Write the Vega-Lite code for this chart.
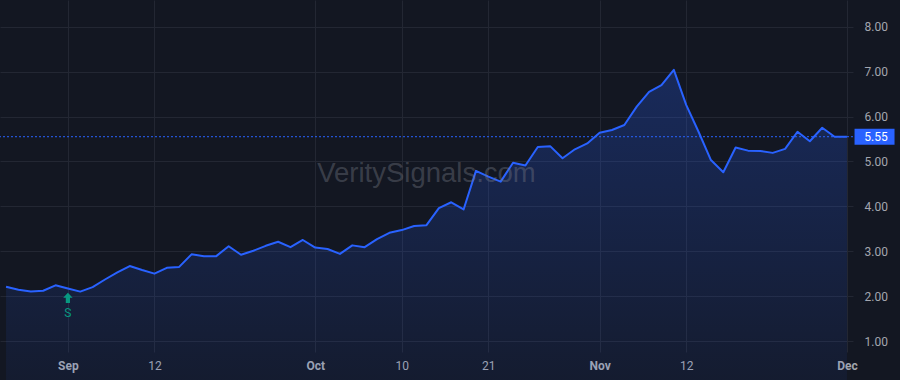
{
  "$schema": "https://vega.github.io/schema/vega-lite/v6.json",
  "width": 853,
  "height": 352,
  "autosize": {"type": "none"},
  "padding": {"left": 0, "top": 0, "right": 47, "bottom": 28},
  "background": "#131722",
  "config": {
    "view": {"stroke": null, "fill": "#131722"},
    "axis": {
      "gridColor": "#232733",
      "gridWidth": 1,
      "domain": false,
      "ticks": false,
      "labelColor": "#a3a6af",
      "labelFont": "Roboto",
      "labelFontSize": 12,
      "title": null
    }
  },
  "datasets": {
    "prices": [
      {"date": "2024-08-26", "close": 2.21},
      {"date": "2024-08-27", "close": 2.14},
      {"date": "2024-08-28", "close": 2.10},
      {"date": "2024-08-29", "close": 2.12},
      {"date": "2024-08-30", "close": 2.24},
      {"date": "2024-09-03", "close": 2.17},
      {"date": "2024-09-04", "close": 2.10},
      {"date": "2024-09-05", "close": 2.20},
      {"date": "2024-09-06", "close": 2.37},
      {"date": "2024-09-09", "close": 2.53},
      {"date": "2024-09-10", "close": 2.67},
      {"date": "2024-09-11", "close": 2.58},
      {"date": "2024-09-12", "close": 2.50},
      {"date": "2024-09-13", "close": 2.63},
      {"date": "2024-09-16", "close": 2.65},
      {"date": "2024-09-17", "close": 2.93},
      {"date": "2024-09-18", "close": 2.89},
      {"date": "2024-09-19", "close": 2.89},
      {"date": "2024-09-20", "close": 3.11},
      {"date": "2024-09-23", "close": 2.92},
      {"date": "2024-09-24", "close": 3.01},
      {"date": "2024-09-25", "close": 3.12},
      {"date": "2024-09-26", "close": 3.21},
      {"date": "2024-09-27", "close": 3.09},
      {"date": "2024-09-30", "close": 3.25},
      {"date": "2024-10-01", "close": 3.08},
      {"date": "2024-10-02", "close": 3.05},
      {"date": "2024-10-03", "close": 2.94},
      {"date": "2024-10-04", "close": 3.13},
      {"date": "2024-10-07", "close": 3.09},
      {"date": "2024-10-08", "close": 3.27},
      {"date": "2024-10-09", "close": 3.41},
      {"date": "2024-10-10", "close": 3.47},
      {"date": "2024-10-11", "close": 3.56},
      {"date": "2024-10-14", "close": 3.58},
      {"date": "2024-10-15", "close": 3.96},
      {"date": "2024-10-16", "close": 4.09},
      {"date": "2024-10-17", "close": 3.93},
      {"date": "2024-10-18", "close": 4.79},
      {"date": "2024-10-21", "close": 4.66},
      {"date": "2024-10-22", "close": 4.55},
      {"date": "2024-10-23", "close": 4.97},
      {"date": "2024-10-24", "close": 4.91},
      {"date": "2024-10-25", "close": 5.32},
      {"date": "2024-10-28", "close": 5.34},
      {"date": "2024-10-29", "close": 5.07},
      {"date": "2024-10-30", "close": 5.27},
      {"date": "2024-10-31", "close": 5.40},
      {"date": "2024-11-01", "close": 5.64},
      {"date": "2024-11-04", "close": 5.70},
      {"date": "2024-11-05", "close": 5.81},
      {"date": "2024-11-06", "close": 6.22},
      {"date": "2024-11-07", "close": 6.55},
      {"date": "2024-11-08", "close": 6.70},
      {"date": "2024-11-11", "close": 7.04},
      {"date": "2024-11-12", "close": 6.26},
      {"date": "2024-11-13", "close": 5.66},
      {"date": "2024-11-14", "close": 5.03},
      {"date": "2024-11-15", "close": 4.76},
      {"date": "2024-11-18", "close": 5.31},
      {"date": "2024-11-19", "close": 5.24},
      {"date": "2024-11-20", "close": 5.23},
      {"date": "2024-11-21", "close": 5.19},
      {"date": "2024-11-22", "close": 5.28},
      {"date": "2024-11-25", "close": 5.66},
      {"date": "2024-11-26", "close": 5.45},
      {"date": "2024-11-27", "close": 5.75},
      {"date": "2024-11-29", "close": 5.55},
      {"date": "2024-12-02", "close": 5.55}
    ],
    "signals": [
      {"date": "2024-09-03", "close": 2.17, "signal": "S"}
    ],
    "last": [
      {"date": "2024-12-02", "close": 5.55}
    ]
  },
  "layer": [
    {
      "data": {"name": "prices"},
      "mark": {
        "type": "area",
        "color": {
          "gradient": "linear",
          "x1": 0, "y1": 0, "x2": 0, "y2": 1,
          "stops": [
            {"offset": 0, "color": "rgba(41,98,255,0.26)"},
            {"offset": 1, "color": "rgba(41,98,255,0.06)"}
          ]
        }
      },
      "encoding": {
        "x": {
          "field": "date",
          "type": "ordinal",
          "sort": "ascending",
          "scale": {"type": "point", "padding": 0.49},
          "axis": {
            "values": ["2024-09-03", "2024-09-12", "2024-10-01", "2024-10-10", "2024-10-21", "2024-11-01", "2024-11-12", "2024-12-02"],
            "labelExpr": "datum.value == '2024-09-03' ? 'Sep' : datum.value == '2024-10-01' ? 'Oct' : datum.value == '2024-11-01' ? 'Nov' : datum.value == '2024-12-02' ? 'Dec' : substring(datum.value, 8)",
            "labelFontWeight": {
              "condition": {"test": "indexof(['2024-09-03','2024-10-01','2024-11-01','2024-12-02'], datum.value) >= 0", "value": "bold"},
              "value": "normal"
            },
            "labelAngle": 0,
            "labelPadding": 8,
            "grid": true
          }
        },
        "y": {
          "field": "close",
          "type": "quantitative",
          "scale": {"domain": [0.755, 8.595], "nice": false, "zero": false},
          "axis": {
            "orient": "right",
            "values": [1, 2, 3, 4, 5, 6, 7, 8],
            "format": ".2f",
            "labelPadding": 11,
            "grid": true
          }
        }
      }
    },
    {
      "data": {"name": "prices"},
      "mark": {"type": "line", "color": "#2962FF", "strokeWidth": 2, "strokeJoin": "round"},
      "encoding": {
        "x": {"field": "date", "type": "ordinal"},
        "y": {"field": "close", "type": "quantitative"}
      }
    },
    {
      "data": {"name": "last"},
      "mark": {"type": "rule", "color": "#2962FF", "strokeWidth": 1, "strokeDash": [2, 2]},
      "encoding": {
        "y": {"field": "close", "type": "quantitative"}
      }
    },
    {
      "data": {"name": "last"},
      "mark": {
        "type": "text",
        "text": "VeritySignals.com",
        "font": "Liberation Sans",
        "fontSize": 27.5,
        "align": "center",
        "baseline": "alphabetic",
        "color": "rgba(120,123,134,0.4)"
      },
      "encoding": {
        "x": {"datum": "2024-10-14", "type": "ordinal"},
        "y": {"datum": 4.535, "type": "quantitative"}
      }
    },
    {
      "data": {"name": "signals"},
      "mark": {
        "type": "point",
        "shape": "M0,-1L0.9,-0.05L0.4,-0.05L0.4,0.95L-0.4,0.95L-0.4,-0.05L-0.9,-0.05Z",
        "size": 110,
        "filled": true,
        "opacity": 1,
        "color": "#089981",
        "yOffset": 9.5
      },
      "encoding": {
        "x": {"field": "date", "type": "ordinal"},
        "y": {"field": "close", "type": "quantitative"}
      }
    },
    {
      "data": {"name": "signals"},
      "mark": {
        "type": "text",
        "font": "Roboto",
        "fontSize": 12,
        "color": "#089981",
        "baseline": "middle",
        "align": "center",
        "yOffset": 24.5
      },
      "encoding": {
        "x": {"field": "date", "type": "ordinal"},
        "y": {"field": "close", "type": "quantitative"},
        "text": {"field": "signal"}
      }
    },
    {
      "data": {"name": "last"},
      "mark": {
        "type": "point",
        "shape": "M-1,-0.4H1V0.4H-1Z",
        "size": 1600,
        "filled": true,
        "opacity": 1,
        "color": "#2962FF",
        "xOffset": 27.6
      },
      "encoding": {
        "x": {"field": "date", "type": "ordinal"},
        "y": {"field": "close", "type": "quantitative"}
      }
    },
    {
      "data": {"name": "last"},
      "mark": {
        "type": "text",
        "font": "Roboto",
        "fontSize": 12,
        "color": "#ffffff",
        "baseline": "middle",
        "align": "center",
        "xOffset": 29
      },
      "encoding": {
        "x": {"field": "date", "type": "ordinal"},
        "y": {"field": "close", "type": "quantitative"},
        "text": {"field": "close", "type": "quantitative", "format": ".2f"}
      }
    }
  ]
}
